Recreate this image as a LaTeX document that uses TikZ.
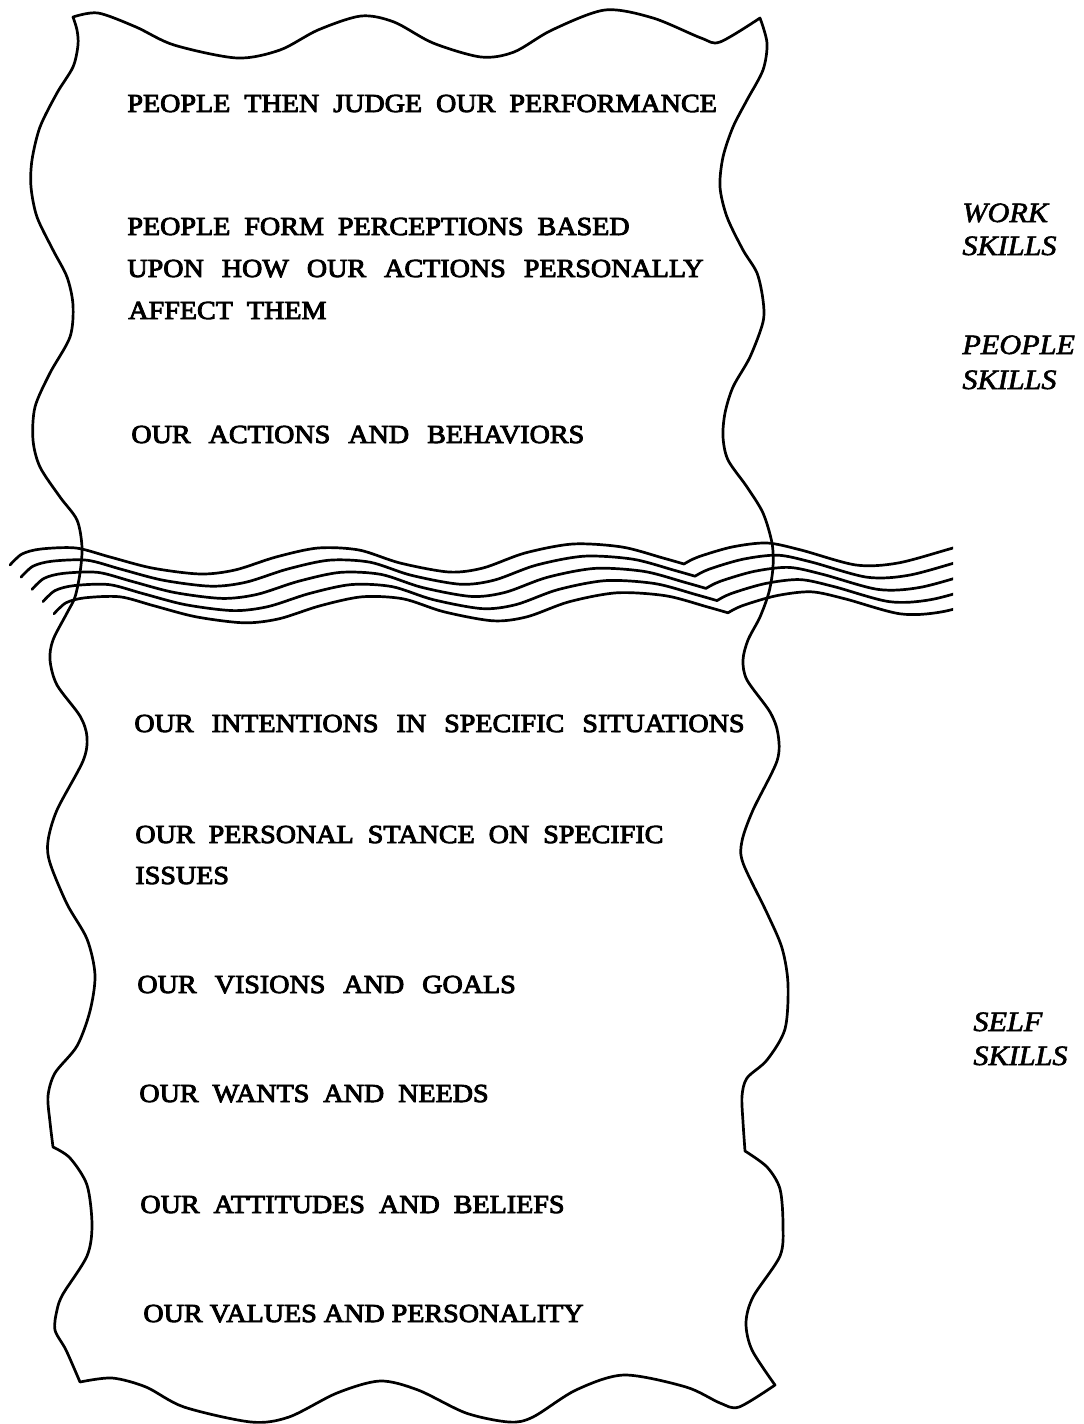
\documentclass[tikz,border=0pt]{standalone}
\usepackage{fontspec}
\setmainfont{Liberation Serif}
\newfontfamily\layerfont{Liberation Serif}[FakeStretch=1.08, FakeBold=3.5]
\newfontfamily\skillfont{Liberation Serif}[FakeStretch=1.08, FakeBold=2]

% wide interword space for the captions
\newskip\captionspace
\captionspace=7pt plus 1pt minus 1pt
\newcommand\widecaption{\layerfont\fontsize{13}{15}\selectfont\spaceskip=\captionspace}
\newskip\captionspacewider
\captionspacewider=9pt plus 1pt minus 1pt
\newcommand\widercaption{\layerfont\fontsize{13}{15}\selectfont\spaceskip=\captionspacewider}

\tikzset{
  border/.style={line width=1.35pt, line join=round, line cap=round},
  waterline/.style={line width=1.35pt, line join=round, line cap=round},
  layer/.style={anchor=base west, inner sep=0pt, font=\widecaption},
  layerwide/.style={anchor=base west, inner sep=0pt, font=\widercaption},
  layertight/.style={anchor=base west, inner sep=0pt,
    font=\layerfont\fontsize{13}{15}\selectfont},
  skill/.style={anchor=base west, inner sep=0pt, font=\skillfont\itshape\fontsize{14}{16}\selectfont}
}

\begin{document}
\begin{tikzpicture}[x=0.5pt, y=-0.5pt]
\useasboundingbox (0,0) rectangle (1083,1424);

% the torn sheet: top edge, right side, bottom edge, left side
\draw[border]
  plot[smooth] coordinates {(73,17) (98,13) (136,27) (174,45) (237,58) (280,50) (318,30) (361,16) (394,22) (433,43) (481,57) (514,52) (552,30) (605,10) (653,18) (701,38) (720,42) (760,18)}
  -- plot[smooth] coordinates {(760,18) (767,43) (763,70) (747,100) (733,127) (723,157) (720,187) (727,217) (743,250) (757,273) (763,300) (763,322) (750,357) (733,387) (725,413) (723,437) (728,460) (747,487) (763,513) (772,543) (773,567) (769,592) (760,617) (748,640) (743,660) (747,680) (770,712) (778,734) (777,761) (753,810) (742,841) (743,863) (767,913) (782,948) (788,984) (785,1029) (767,1060) (747,1078) (742,1096) (743,1122) (745,1151)}
  -- plot[smooth] coordinates {(745,1151) (767,1167) (780,1189) (783,1225) (780,1256) (753,1297) (746,1323) (752,1350) (775,1385)}
  -- plot[smooth] coordinates {(775,1385) (739,1407) (720,1403) (686,1387) (624,1375) (576,1390) (533,1417) (509,1422) (466,1413) (418,1390) (380,1381) (337,1393) (289,1417) (251,1422) (184,1407) (146,1387) (112,1378) (80,1382)}
  -- plot[smooth] coordinates {(80,1382) (66,1350) (55,1330) (57,1310) (63,1294) (87,1256) (92,1225) (87,1185) (70,1158) (53,1147)}
  -- plot[smooth] coordinates {(53,1147) (50,1122) (48,1096) (55,1073) (77,1046) (90,1011) (95,975) (87,939) (67,904) (50,863) (48,841) (57,810) (83,761) (87,737) (80,716) (57,685) (50,660) (53,640) (67,613) (75,597) (80,573) (82,547) (77,520) (60,497) (40,467) (33,440) (35,407) (50,373) (70,337) (73,305) (67,277) (53,250) (37,217) (31,187) (32,160) (40,127) (57,93) (73,67) (78,45) (77,30) (73,17)}
  -- cycle;

% the water line: five parallel waves, cut off square on the right
\begin{scope}
  \clip (0,0) rectangle (953,1424);
  \foreach \i in {0,...,4} {
    \draw[waterline, shift={(11*\i,12.2*\i)}]
      plot[smooth] coordinates {(10,565) (22,554) (41,549) (76,548) (110,557) (152,568) (200,574) (235,570) (276,557) (318,548) (359,550) (400,563) (449,572) (483,568) (525,553) (573,544) (622,547) (663,558) (684,564)}
      -- plot[smooth] coordinates {(684,564) (698,557) (732,547) (767,543) (801,550) (856,565) (898,563) (953,548) (1010,532)};
  }
\end{scope}

% layers above the water line
\node[layer] (judge) at (127,112) {PEOPLE THEN JUDGE OUR PERFORMANCE};
\node[layer] (percA) at (127,235) {PEOPLE FORM PERCEPTIONS BASED};
\node[layerwide] (percB) at (127,277) {UPON HOW OUR ACTIONS PERSONALLY};
\node[layer] (percC) at (128,319) {AFFECT THEM};
\node[layerwide] (actions) at (131,443) {OUR ACTIONS AND BEHAVIORS};

% layers below the water line
\node[layerwide] (intent) at (134,732) {OUR INTENTIONS IN SPECIFIC SITUATIONS};
\node[layer] (stanceA) at (135,843) {OUR PERSONAL STANCE ON SPECIFIC};
\node[layer] (stanceB) at (135,884) {ISSUES};
\node[layerwide] (vision) at (137,993) {OUR VISIONS AND GOALS};
\node[layer] (wants) at (139,1102) {OUR WANTS AND NEEDS};
\node[layer] (attit) at (140,1213) {OUR ATTITUDES AND BELIEFS};
\node[layertight] (values) at (143,1322) {OUR VALUES AND PERSONALITY};

% skill groups
\node[skill] (workA) at (962,222) {WORK};
\node[skill] (workB) at (962,255) {SKILLS};
\node[skill] (peopleA) at (962,354) {PEOPLE};
\node[skill] (peopleB) at (962,389) {SKILLS};
\node[skill] (selfA) at (973,1031) {SELF};
\node[skill] (selfB) at (973,1065) {SKILLS};
\end{tikzpicture}
\end{document}
